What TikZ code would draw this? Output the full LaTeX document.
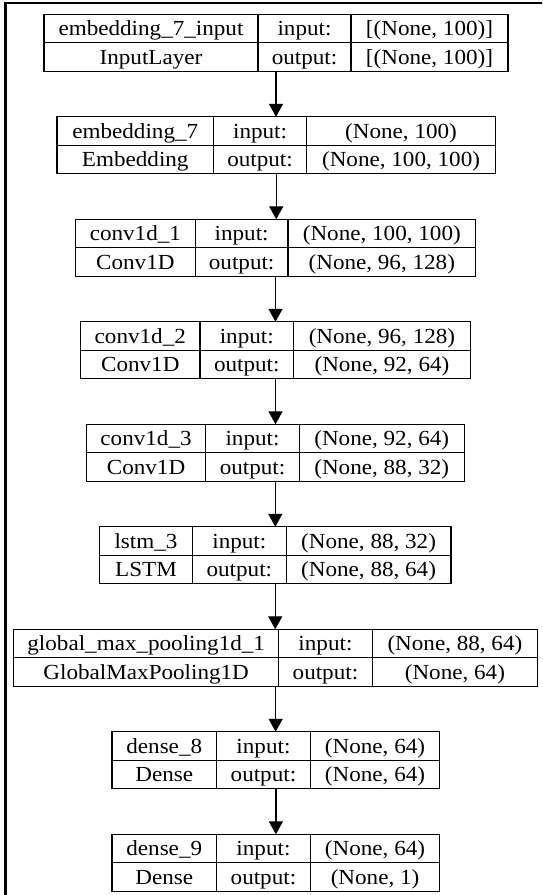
\documentclass[tikz,border=0pt]{standalone}
\usepackage{fontspec}
\setmainfont{Liberation Serif}[FakeStretch=1.075]
\usetikzlibrary{arrows.meta}
\begin{document}
\begin{tikzpicture}[x=1pt,y=-1pt,
  layerframe/.style={draw, line width=1.2pt, rectangle, inner sep=0pt, outer sep=0pt,
    anchor=north west, minimum height=57pt},
  cell/.style={inner sep=0pt, anchor=base, font=\fontsize{21.5}{24}\selectfont},
  rule/.style={line width=1.2pt},
  flow/.style={line width=1.3pt, -{Triangle[length=13pt,width=14pt]}},
  edge/.style={line width=2.5pt}]
\useasboundingbox (0,0) rectangle (542,895);

% outer frame (top and left edges)
\coordinate (corner) at (5.3,2.8);
\draw[edge] (corner) -- (542,2.8);
\draw[edge] ([yshift=1.2pt]corner) -- (5.3,895);

% layers: name / left / divider 1 / divider 2 / right / top / layer / class / input / output
\foreach \n/\l/\a/\b/\r/\t/\nm/\cl/\inp/\outp in {
  1/44/258/351/508/14.3/embedding\_7\_input/InputLayer/{[(None, 100)]}/{[(None, 100)]},
  2/57/213.5/306.6/495.5/116.8/embedding\_7/Embedding/{(None, 100)}/{(None, 100, 100)},
  3/75.4/195.3/288/475.6/219.3/conv1d\_1/Conv1D/{(None, 100, 100)}/{(None, 96, 128)},
  4/80.6/200/293.5/470.4/321.8/conv1d\_2/Conv1D/{(None, 96, 128)}/{(None, 92, 64)},
  5/86.4/205.7/299.3/464.2/424.3/conv1d\_3/Conv1D/{(None, 92, 64)}/{(None, 88, 32)},
  6/99.5/192.5/286.2/451/526.8/lstm\_3/LSTM/{(None, 88, 32)}/{(None, 88, 64)},
  7/13.8/278.6/372.3/537.5/629.3/global\_max\_pooling1d\_1/GlobalMaxPooling1D/{(None, 88, 64)}/{(None, 64)},
  8/112/216.5/310.4/439.7/731.8/dense\_8/Dense/{(None, 64)}/{(None, 64)},
  9/112/216.5/310.4/439.7/834.3/dense\_9/Dense/{(None, 64)}/{(None, 1)}}
{
  \node[layerframe, minimum width={\r-\l}] (L\n) at (\l,\t) {};
  \draw[rule] (L\n.west) -- (L\n.east);
  \draw[rule] (\a,\t) -- (\a,\t+57);
  \draw[rule] (\b,\t) -- (\b,\t+57);
  \node[cell] (L\n-name)  at ({(\l+\a)/2}, \t+21.3) {\nm};
  \node[cell] (L\n-class) at ({(\l+\a)/2}, \t+49.8) {\cl};
  \node[cell] (L\n-inl)   at ({(\a+\b)/2}, \t+21.3) {input:};
  \node[cell] (L\n-outl)  at ({(\a+\b)/2}, \t+49.8) {output:};
  \node[cell] (L\n-in)    at ({(\b+\r)/2}, \t+21.3) {\inp};
  \node[cell] (L\n-out)   at ({(\b+\r)/2}, \t+49.8) {\outp};
}

% data flow between consecutive layers
\foreach \i [evaluate=\i as \j using int(\i+1)] in {1,...,8}
  \draw[flow] (L\i.south) -- (L\i.south |- L\j.north);
\end{tikzpicture}
\end{document}
